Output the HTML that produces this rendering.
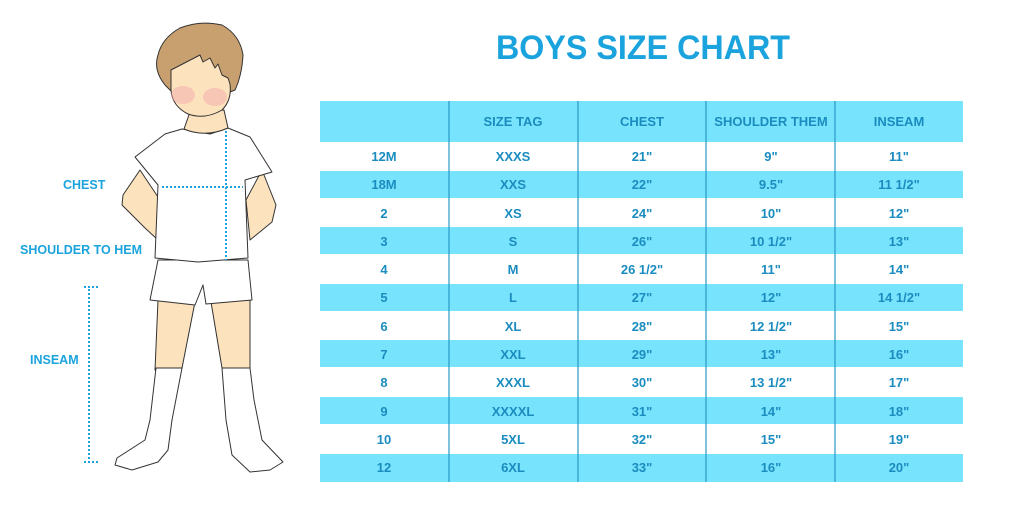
<!DOCTYPE html>
<html><head><meta charset="utf-8"><style>
html,body{margin:0;padding:0;background:#fff;}
svg{display:block;}
.t{font-family:"Liberation Sans",sans-serif;font-weight:bold;fill:#1a8cbf;font-size:13px;text-anchor:middle;}
.l{font-family:"Liberation Sans",sans-serif;font-weight:bold;fill:#1aa3dd;font-size:12.5px;}
</style></head><body>
<svg width="1024" height="512" viewBox="0 0 1024 512" xmlns="http://www.w3.org/2000/svg">
<text x="643" y="59" textLength="294" lengthAdjust="spacingAndGlyphs" style="font-family:'Liberation Sans',sans-serif;font-weight:bold;font-size:34px;fill:#1aa3dd;text-anchor:middle">BOYS SIZE CHART</text>
<rect x="320" y="101" width="643" height="41" fill="#78e3fc"/>
<g fill="#78e3fc">
<rect x="320" y="171" width="643" height="27"/>
<rect x="320" y="227" width="643" height="27"/>
<rect x="320" y="284" width="643" height="27"/>
<rect x="320" y="340" width="643" height="27"/>
<rect x="320" y="397" width="643" height="27"/>
<rect x="320" y="454" width="643" height="28"/>
</g>
<g stroke="#2a9ac8" stroke-width="1.2">
<line x1="449" y1="101" x2="449" y2="482"/>
<line x1="578" y1="101" x2="578" y2="482"/>
<line x1="706" y1="101" x2="706" y2="482"/>
<line x1="835" y1="101" x2="835" y2="482"/>
</g>
<g class="t">
<text x="513" y="126">SIZE TAG</text><text x="642" y="126">CHEST</text><text x="771" y="126">SHOULDER THEM</text><text x="899" y="126">INSEAM</text>
</g>
<g class="t">
<text x="384" y="161">12M</text><text x="513" y="161">XXXS</text><text x="642" y="161">21"</text><text x="771" y="161">9"</text><text x="899" y="161">11"</text>
<text x="384" y="189">18M</text><text x="513" y="189">XXS</text><text x="642" y="189">22"</text><text x="771" y="189">9.5"</text><text x="899" y="189">11 1/2"</text>
<text x="384" y="218">2</text><text x="513" y="218">XS</text><text x="642" y="218">24"</text><text x="771" y="218">10"</text><text x="899" y="218">12"</text>
<text x="384" y="246">3</text><text x="513" y="246">S</text><text x="642" y="246">26"</text><text x="771" y="246">10 1/2"</text><text x="899" y="246">13"</text>
<text x="384" y="274">4</text><text x="513" y="274">M</text><text x="642" y="274">26 1/2"</text><text x="771" y="274">11"</text><text x="899" y="274">14"</text>
<text x="384" y="302">5</text><text x="513" y="302">L</text><text x="642" y="302">27"</text><text x="771" y="302">12"</text><text x="899" y="302">14 1/2"</text>
<text x="384" y="331">6</text><text x="513" y="331">XL</text><text x="642" y="331">28"</text><text x="771" y="331">12 1/2"</text><text x="899" y="331">15"</text>
<text x="384" y="359">7</text><text x="513" y="359">XXL</text><text x="642" y="359">29"</text><text x="771" y="359">13"</text><text x="899" y="359">16"</text>
<text x="384" y="387">8</text><text x="513" y="387">XXXL</text><text x="642" y="387">30"</text><text x="771" y="387">13 1/2"</text><text x="899" y="387">17"</text>
<text x="384" y="416">9</text><text x="513" y="416">XXXXL</text><text x="642" y="416">31"</text><text x="771" y="416">14"</text><text x="899" y="416">18"</text>
<text x="384" y="444">10</text><text x="513" y="444">5XL</text><text x="642" y="444">32"</text><text x="771" y="444">15"</text><text x="899" y="444">19"</text>
<text x="384" y="472">12</text><text x="513" y="472">6XL</text><text x="642" y="472">33"</text><text x="771" y="472">16"</text><text x="899" y="472">20"</text>
</g>
<g stroke="#333" stroke-width="1" stroke-linejoin="round">
<path d="M140 170 L123 195 L122 205 L145 228 L158 240 L160 200 Z" fill="#fce2bd"/>
<path d="M262 170 L276 205 L272 222 L250 240 L246 200 Z" fill="#fce2bd"/>
<path d="M158 300 L155 370 L182 368 L195 302 Z" fill="#fce2bd"/>
<path d="M211 302 L222 368 L250 368 L250 300 Z" fill="#fce2bd"/>
<path d="M156 368 L150 420 L145 440 L117 458 L115 465 L132 470 L158 462 L168 450 L172 420 L182 368 Z" fill="#fff"/>
<path d="M222 368 L226 420 L232 455 L250 472 L270 470 L283 462 L262 440 L254 400 L250 368 Z" fill="#fff"/>
<path d="M158 260 L150 300 L195 305 L203 285 L206 304 L252 300 L248 260 Z" fill="#fff"/>
<path d="M182 129 L165 134 L135 157 L158 185 L155 258 L198 262 L248 258 L245 180 L272 172 L250 137 L228 128 L210 134 Z" fill="#fff"/>
<path d="M190 112 L184 129 Q205 138 228 128 L224 110 Z" fill="#fce2bd"/>
<!-- hair (behind face) -->
<path d="M165 85 Q153 70 158 55 Q162 38 180 28 Q200 20 222 25 Q240 35 243 55 Q242 75 235 90 Q225 95 210 95 L175 95 Z" fill="#c8a070"/>
<!-- face with jagged fringe -->
<path d="M171 70 L200 55 L203 62 L210 58 L215 68 L218 64 L222 75 L228 78 L230 84 Q232 100 222 110 Q205 120 188 114 Q172 106 171 90 Z" fill="#fce2bd"/>
</g>
<ellipse cx="183" cy="95" rx="12" ry="9" fill="#f5a3a8" opacity="0.45"/>
<ellipse cx="215" cy="97" rx="12" ry="9" fill="#f5a3a8" opacity="0.45"/>
<g stroke="#1aa3dd" stroke-width="2" stroke-dasharray="2,2" fill="none">
<line x1="162" y1="187" x2="243" y2="187"/>
<line x1="226" y1="131" x2="226" y2="260"/>
<line x1="89" y1="289" x2="89" y2="462"/>
<line x1="84" y1="287" x2="100" y2="287"/>
<line x1="84" y1="462" x2="100" y2="462"/>
</g>
<text class="l" x="63" y="189">CHEST</text>
<text class="l" x="20" y="254">SHOULDER TO HEM</text>
<text class="l" x="30" y="364">INSEAM</text>
</svg>
</body></html>
